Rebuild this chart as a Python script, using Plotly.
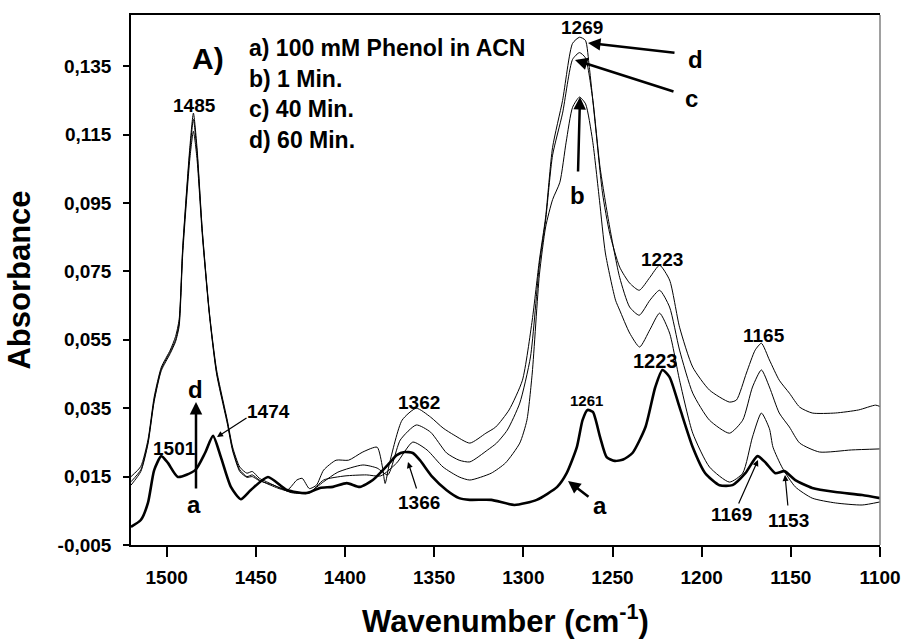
import plotly.graph_objects as go

# ---------------- data ----------------
wn_a = [1520, 1514.5, 1510.5, 1507, 1503, 1499.3, 1493.7, 1484, 1478.5, 1474,
        1469.6, 1464, 1458.4, 1452.8, 1443.2, 1432.6, 1421.4, 1414, 1406.8, 1399,
        1391.7, 1384.4, 1375, 1371, 1366.5, 1362, 1358, 1351, 1343, 1336,
        1330, 1318, 1305, 1292.5, 1281, 1275.7, 1270, 1266.8, 1264, 1261,
        1257, 1253.3, 1248.8, 1244, 1238.8, 1231.5, 1226, 1222, 1218, 1212.4,
        1205, 1198, 1190, 1182.7, 1175.5, 1168.7, 1164, 1158.7, 1153.6, 1147.5,
        1138, 1125, 1110, 1100]
abs_a = [0.0003, 0.0023, 0.0073, 0.0169, 0.0210, 0.0190, 0.0149, 0.0169, 0.0219, 0.0269,
         0.0207, 0.0120, 0.0084, 0.0111, 0.0149, 0.0111, 0.0102, 0.0117, 0.0120, 0.0131,
         0.0120, 0.0140, 0.0190, 0.0213, 0.0222, 0.0219, 0.0198, 0.0149, 0.0110, 0.0087,
         0.0082, 0.0082, 0.0067, 0.0082, 0.0120, 0.0160, 0.0236, 0.0315, 0.0345, 0.0339,
         0.0266, 0.0207, 0.0196, 0.0200, 0.0219, 0.0295, 0.0412, 0.0462, 0.0441, 0.0353,
         0.0236, 0.0160, 0.0125, 0.0125, 0.0160, 0.0210, 0.0190, 0.0160, 0.0166, 0.0140,
         0.0117, 0.0105, 0.0096, 0.0087]

wn_b = [1520, 1514.5, 1510.5, 1507, 1503, 1498, 1495, 1493, 1491, 1487,
        1485, 1483, 1480, 1476, 1472, 1466, 1463, 1459, 1455, 1452,
        1448, 1440, 1430, 1420, 1412, 1400, 1388, 1380, 1371, 1362,
        1354, 1345, 1336, 1330, 1318, 1310, 1302, 1298, 1295, 1291,
        1287.5, 1283.6, 1279.5, 1276, 1272.4, 1268.5, 1265.1, 1261.2, 1257.3, 1254,
        1248.3, 1246, 1240.4, 1234.8, 1229, 1223.6, 1218, 1212.4, 1205, 1195.6,
        1184.4, 1177, 1171.5, 1166.5, 1162, 1160, 1154.7, 1147.5, 1138, 1125,
        1110, 1100]
abs_b = [0.0125, 0.0165, 0.0245, 0.0370, 0.0460, 0.0510, 0.0545, 0.0590, 0.0800, 0.1080,
         0.1160, 0.1080, 0.0855, 0.0620, 0.0450, 0.0305, 0.0225, 0.0165, 0.0148, 0.0150,
         0.0138, 0.0125, 0.0103, 0.0102, 0.0140, 0.0152, 0.0155, 0.0152, 0.0190, 0.0251,
         0.0228, 0.0178, 0.0149, 0.0140, 0.0160, 0.0190, 0.0248, 0.0315, 0.0453, 0.0740,
         0.0880, 0.0960, 0.1011, 0.1128, 0.1230, 0.1260, 0.1240, 0.1134, 0.0958, 0.0804,
         0.0666, 0.0637, 0.0570, 0.0529, 0.0580, 0.0628, 0.0570, 0.0432, 0.0277, 0.0178,
         0.0134, 0.0160, 0.0266, 0.0336, 0.0290, 0.0236, 0.0175, 0.0120, 0.0087, 0.0073,
         0.0067, 0.0076]

wn_c = [1520, 1514.5, 1510.5, 1507, 1503, 1498, 1495, 1493, 1491, 1487,
        1485, 1483, 1480, 1476, 1472, 1466, 1463, 1459, 1455, 1452,
        1448, 1444, 1437, 1430, 1420, 1412, 1404, 1390, 1382, 1376,
        1369, 1360, 1352, 1343, 1336, 1330, 1320, 1315, 1309, 1302,
        1296, 1291, 1287.5, 1283.6, 1278, 1272.4, 1268.5, 1265.2, 1261, 1257,
        1251.6, 1246, 1240.4, 1235, 1229, 1223.6, 1218, 1212.4, 1205, 1195.6,
        1184.4, 1177, 1171.5, 1166.5, 1162, 1156.5, 1150.8, 1145, 1134, 1116,
        1100]
abs_c = [0.0135, 0.0170, 0.0250, 0.0375, 0.0465, 0.0515, 0.0550, 0.0600, 0.0815, 0.1100,
         0.1195, 0.1100, 0.0865, 0.0625, 0.0455, 0.0310, 0.0230, 0.0170, 0.0150, 0.0155,
         0.0140, 0.0130, 0.0115, 0.0105, 0.0105, 0.0135, 0.0163, 0.0184, 0.0175, 0.0155,
         0.0257, 0.0301, 0.0280, 0.0219, 0.0198, 0.0193, 0.0228, 0.0248, 0.0286, 0.0365,
         0.0500, 0.0770, 0.0900, 0.1090, 0.1213, 0.1370, 0.1390, 0.1375, 0.1250, 0.1055,
         0.0880, 0.0733, 0.0646, 0.0622, 0.0666, 0.0695, 0.0646, 0.0520, 0.0394, 0.0315,
         0.0277, 0.0315, 0.0412, 0.0462, 0.0412, 0.0336, 0.0295, 0.0248, 0.0222, 0.0228,
         0.0231]

wn_d = [1520, 1514.5, 1510.5, 1507, 1503, 1498, 1495, 1493, 1491, 1487,
        1485, 1483, 1480, 1476, 1472, 1466, 1463, 1459, 1455, 1452,
        1448, 1444, 1437, 1432, 1427, 1424, 1420, 1416, 1412, 1405,
        1398, 1390, 1382, 1379, 1377.5, 1375, 1368, 1360, 1352, 1345,
        1339, 1330, 1321, 1315.5, 1308, 1300.5, 1295, 1291, 1287.5, 1283.6,
        1278, 1272.4, 1268.5, 1265.2, 1263, 1259.5, 1255.6, 1251.6, 1246, 1240.4,
        1235, 1229, 1223.6, 1218, 1212.4, 1205, 1195.6, 1184.4, 1180.5, 1174.9,
        1170, 1166.5, 1162, 1156.5, 1150.8, 1145, 1138, 1125, 1112, 1102.5,
        1100]
abs_d = [0.0150, 0.0180, 0.0257, 0.0383, 0.0470, 0.0520, 0.0560, 0.0610, 0.0821, 0.1113,
         0.1213, 0.1113, 0.0870, 0.0628, 0.0462, 0.0315, 0.0236, 0.0178, 0.0160, 0.0165,
         0.0145, 0.0135, 0.0118, 0.0112, 0.0140, 0.0145, 0.0115, 0.0125, 0.0169, 0.0198,
         0.0198, 0.0222, 0.0236, 0.0178, 0.0130, 0.0190, 0.0315, 0.0350, 0.0324, 0.0292,
         0.0272, 0.0248, 0.0277, 0.0295, 0.0345, 0.0432, 0.0608, 0.0783, 0.0909, 0.1113,
         0.1250, 0.1417, 0.1435, 0.1426, 0.1347, 0.1172, 0.0979, 0.0862, 0.0763, 0.0716,
         0.0695, 0.0733, 0.0768, 0.0725, 0.0587, 0.0470, 0.0403, 0.0368, 0.0374, 0.0453,
         0.0520, 0.0540, 0.0491, 0.0432, 0.0394, 0.0353, 0.0336, 0.0336, 0.0345, 0.0359,
         0.0355]

y_tick_vals = [-0.005, 0.015, 0.035, 0.055, 0.075, 0.095, 0.115, 0.135]
y_tick_text = ["-0,005", "0,015", "0,035", "0,055", "0,075", "0,095", "0,115", "0,135"]
x_tick_vals = [1500, 1450, 1400, 1350, 1300, 1250, 1200, 1150, 1100]

legend_lines = ["a) 100 mM Phenol in ACN", "b) 1 Min.", "c) 40 Min.", "d) 60 Min."]

# ---------------- figure ----------------
FONT = "Liberation Sans, Arial, sans-serif"
fig = go.Figure()
for wn, ab, w in [(wn_b, abs_b, 1), (wn_c, abs_c, 1), (wn_d, abs_d, 1), (wn_a, abs_a, 2.6)]:
    fig.add_trace(go.Scatter(x=wn, y=ab, mode="lines",
                             line=dict(color="black", width=w, shape="spline", smoothing=0.6),
                             showlegend=False, hoverinfo="skip"))

def P(px, py):
    return (px - 131) / 749.0, (545 - py) / 530.0

ann = []
def text(px, py, s, size=18, xanchor="center"):
    x, y = P(px, py)
    ann.append(dict(x=x, y=y, xref="paper", yref="paper", text="<b>%s</b>" % s,
                    showarrow=False, xanchor=xanchor, yanchor="middle",
                    font=dict(family=FONT, size=size, color="black")))

def arrow(hx, hy, ax, ay, width=1.0, head=2, size=1.0):
    x, y = P(hx, hy)
    ann.append(dict(x=x, y=y, xref="paper", yref="paper", text="", showarrow=True,
                    ax=ax, ay=ay, arrowhead=head, arrowsize=size, arrowwidth=width,
                    arrowcolor="black"))

text(208, 59, "A)", size=30)
for i, s in enumerate(legend_lines):
    text(247, 48 + i * 30.5, s, size=23, xanchor="left")

text(194, 106, "1485", size=19)
text(582, 28, "1269", size=19)
text(662, 259, "1223", size=19)
text(764, 335, "1165", size=19)
text(655, 361, "1223", size=20)
text(586, 400, "1261", size=15)
text(731, 514, "1169", size=19)
text(788, 520, "1153", size=19)
text(419, 402, "1362", size=19)
text(419, 502, "1366", size=19)
text(268, 412, "1474", size=19)
text(174, 448, "1501", size=19)
text(195, 389, "d", size=24)
text(194, 504, "a", size=24)
text(600, 505, "a", size=24)
text(695, 60, "d", size=24)
text(691, 99, "c", size=24)
text(577, 195, "b", size=24)

arrow(196, 402, 0, 88, width=2.5)
arrow(568, 481, 22, 17, width=2.5)
arrow(588, 43, 88, 10, width=2.5)
arrow(575, 60, 100, 32, width=2.5)
arrow(580, 97, -2, 76, width=2.5)
arrow(217, 437, 31, -20, width=1.2)
arrow(408, 462, 9, 28, width=1.2)
arrow(758, 460, -20, 45, width=1.2)
arrow(785, 475, 3, 32, width=1.2)

fig.update_layout(
    width=906, height=641,
    margin=dict(l=131, r=26, t=15, b=96, autoexpand=False),
    paper_bgcolor="white", plot_bgcolor="white",
    font=dict(family=FONT, color="black"),
    annotations=ann,
    shapes=[dict(type="line", xref="paper", yref="paper", x0=1, x1=1, y0=0, y1=1,
                 line=dict(color="#808080", width=1.5))],
    xaxis=dict(range=[1520, 1100], tickvals=x_tick_vals, ticks="outside", ticklen=10,
               tickwidth=1.5, tickcolor="black", showline=True, linecolor="black",
               linewidth=1.5, mirror=True, showgrid=False, zeroline=False,
               tickfont=dict(family=FONT, size=19, weight="bold"),
               ticklabelstandoff=4,
               title=dict(text="<b>Wavenumber (cm<sup>-1</sup>)</b>", standoff=24,
                          font=dict(family=FONT, size=31))),
    yaxis=dict(range=[-0.005, 0.15], tickvals=y_tick_vals, ticktext=y_tick_text,
               ticks="outside", ticklen=6, tickwidth=1.5, tickcolor="black",
               showline=True, linecolor="black", linewidth=1.5, mirror=False,
               showgrid=False, zeroline=False,
               tickfont=dict(family=FONT, size=19, weight="bold"),
               ticklabelstandoff=8,
               title=dict(text="<b>Absorbance</b>", standoff=18,
                          font=dict(family=FONT, size=31))),
)

fig.write_html("out.html", config={"displayModeBar": False},
               post_script="document.body.style.margin='0';document.body.style.overflow='hidden';")
